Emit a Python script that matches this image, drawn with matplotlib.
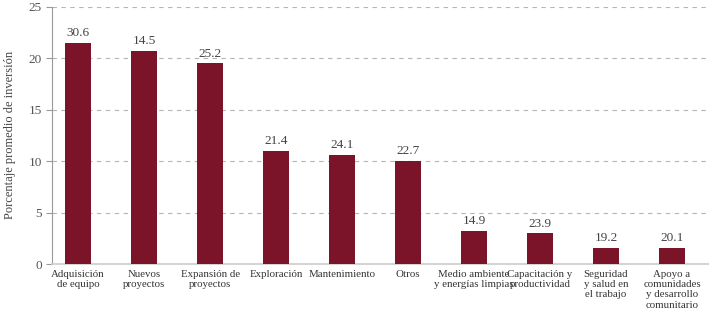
import matplotlib.pyplot as plt

# Datos
categorias = ['Adquisición\nde equipo', 'Nuevos\nproyectos', 'Expansión de\nproyectos',
              'Exploración', 'Mantenimiento', 'Otros',
              'Medio ambiente\ny energías limpias', 'Capacitación y\nproductividad',
              'Seguridad\ny salud en\nel trabajo',
              'Apoyo a\ncomunidades\ny desarrollo\ncomunitario']
alturas = [21.5, 20.7, 19.5, 11.0, 10.6, 10.0, 3.2, 3.0, 1.6, 1.55]
etiquetas = ['30.6', '14.5', '25.2', '21.4', '24.1', '22.7', '14.9', '23.9', '19.2', '20.1']

plt.rcParams['font.family'] = ['Liberation Serif', 'DejaVu Serif']
color_barra = '#7b1428'
gris = '#555555'

fig = plt.figure(figsize=(7.09, 3.26), dpi=100)
ax = fig.add_axes([0.073, 0.19, 0.927, 0.79])

x = range(len(categorias))
ax.bar(x, alturas, width=0.4, color=color_barra, zorder=3)
for xi, h, t in zip(x, alturas, etiquetas):
    ax.text(xi, h + 0.35, t, ha='center', va='bottom', fontsize=9.5, color='#444444')

ax.set_xlim(-0.4, 9.56)
ax.set_ylim(0, 25)
ax.set_yticks([0, 5, 10, 15, 20, 25])
ax.yaxis.grid(True, linestyle=(0, (4, 4)), color='#b5b5b5', linewidth=0.8, zorder=0)
ax.set_xticks(list(x))
ax.set_xticklabels(categorias, fontsize=7.8, color='#333333', linespacing=1.2)
ax.tick_params(axis='x', length=0, pad=4)
ax.tick_params(axis='y', length=4, color='#999999', labelsize=9.5, labelcolor=gris, pad=3)
ax.set_ylabel('Porcentaje promedio de inversión', fontsize=9, color='#444444', labelpad=9)

for s in ['top', 'right']:
    ax.spines[s].set_visible(False)
ax.spines['left'].set_color('#999999')
ax.spines['bottom'].set_color('#cccccc')
ax.spines['bottom'].set_linewidth(1.2)

fig.savefig('out.png', dpi=100)
